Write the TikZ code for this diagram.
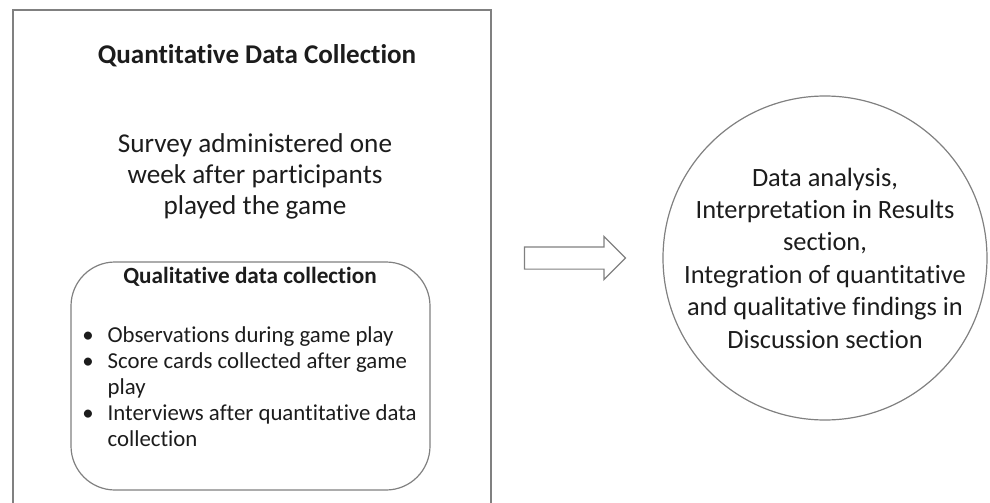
\documentclass[tikz,border=0pt]{standalone}
\usepackage{fontspec}
\setmainfont[Ligatures=NoCommon]{Carlito}
\usetikzlibrary{shapes.arrows}
\definecolor{linegray}{HTML}{808080}
\definecolor{textdark}{HTML}{1c1c1c}

\begin{document}
\begin{tikzpicture}[x=0.75pt,y=-0.75pt,
  frame/.style={draw=linegray,line width=0.9pt},
  txt/.style={text=textdark,inner sep=0pt,anchor=base}]
\useasboundingbox (0,0) rectangle (990,503);

% quantitative part, frame open at the bottom
\draw[frame] (13,503) |- (491,10) -- (491,503);
\node[txt] (quanttitle) at (257,64)
{\fontsize{20.3}{24}\selectfont\bfseries Quantitative Data Collection};
\node[txt] (survey) at (255,152)
{\fontsize{20.4}{23.6}\selectfont\begin{tabular}[t]{@{}c@{}}Survey administered one\\ week after participants\\ played the game\end{tabular}};

% qualitative part
\node[frame,rounded corners=33pt,minimum width=269.25pt,minimum height=171pt] (qualbox) at (250.5,376) {};
\node[txt] (qualtitle) at (250,283)
{\fontsize{17.4}{20}\selectfont\bfseries Qualitative data collection};
\node[txt,anchor=base west] (quallist) at (82,342)
{\fontsize{17.1}{19.5}\selectfont\begin{tabular}[t]{@{}p{19pt}@{}l@{}}
\textbullet & Observations during game play\\
\textbullet & Score cards collected after game\\
 & play\\
\textbullet & Interviews after quantitative data\\
 & collection
\end{tabular}};

\node[single arrow,frame,minimum height=75.75pt,inner xsep=0pt,inner ysep=7.875pt,
  single arrow head extend=7.875pt] (flow) at (569.5,258) {};

\node[circle,frame,minimum size=243pt,inner sep=0pt] (analysis) at (825,258) {};
\node[text=textdark,align=center,inner sep=0pt,
  font=\fontsize{19.8}{24.3}\selectfont] (analysistext) at (analysis.center)
{Data analysis,\\ Interpretation in Results\\ section,\\ Integration of quantitative\\ and qualitative findings in\\ Discussion section};
\end{tikzpicture}
\end{document}
